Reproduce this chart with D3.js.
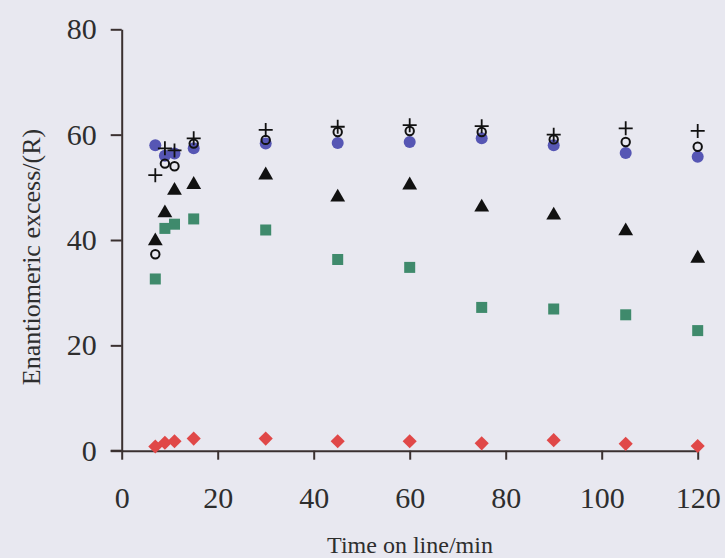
<!DOCTYPE html>
<html>
<head>
<meta charset="utf-8">
<script src="https://cdn.jsdelivr.net/npm/d3@7"></script>
<style>
  html, body { margin: 0; padding: 0; background: #e8e8f0; }
  svg { display: block; }
</style>
</head>
<body>
<svg id="chart" width="725" height="558"></svg>
<script>
// ---- Data ----
const timesEarly = [7, 9, 11, 15];
const timesLate = [30, 45, 60, 75, 90, 105, 120];
const times = timesEarly.concat(timesLate);

const plusValues   = [52.3, 57.4, 57.0, 59.3, 60.9, 61.5, 61.8, 61.6, 60.0, 61.2, 60.7];
const openValues   = [37.3, 54.5, 54.0, 58.3, 59.0, 60.5, 60.7, 60.5, 59.1, 58.6, 57.7];
const blueValues   = [58.0, 56.0, 56.4, 57.4, 58.3, 58.4, 58.6, 59.3, 58.0, 56.5, 55.8];
const triValues    = [40.0, 45.3, 49.6, 50.7, 52.5, 48.3, 50.6, 46.4, 44.9, 41.9, 36.7];
const squareValues = [32.6, 42.2, 43.0, 44.0, 41.9, 36.3, 34.8, 27.2, 26.9, 25.8, 22.8];
const diamondValues= [0.8, 1.5, 1.8, 2.3, 2.3, 1.8, 1.8, 1.4, 2.0, 1.3, 0.9];

const xTicks = [0, 20, 40, 60, 80, 100, 120];
const yTicks = [0, 20, 40, 60, 80];
const xTitle = "Time on line/min";
const yTitle = "Enantiomeric excess/(R)";

// ---- Layout ----
const svg = d3.select("#chart");
const x = d3.scaleLinear().domain([0, 120]).range([121.7, 697.7]);
const y = d3.scaleLinear().domain([0, 80]).range([450.7, 29.3]);
const axisColor = "#3a3030";
const font = "'Liberation Serif', 'Times New Roman', serif";

// axes
const xAxis = svg.append("g").attr("transform", `translate(0,${y(0)})`)
  .call(d3.axisBottom(x).tickValues(xTicks).tickSize(9).tickPadding(28).tickSizeOuter(0));
const yAxis = svg.append("g").attr("transform", `translate(${x(0)},0)`)
  .call(d3.axisLeft(y).tickValues(yTicks).tickSize(11).tickPadding(14).tickSizeOuter(0));

[xAxis, yAxis].forEach(g => {
  g.attr("font-family", null).attr("font-size", null);
  g.select(".domain").attr("stroke", axisColor).attr("stroke-width", 2);
  g.selectAll(".tick line").attr("stroke", axisColor).attr("stroke-width", 2);
  g.selectAll(".tick text").attr("fill", "#2e2e2e")
    .style("font-family", font).style("font-size", "30px");
});
xAxis.selectAll(".tick text").attr("dy", null).attr("y", 57);
// extend x-axis line left past the y axis (as in the reference)
svg.append("line").attr("x1", x(0) - 11).attr("x2", x(0))
  .attr("y1", y(0)).attr("y2", y(0)).attr("stroke", axisColor).attr("stroke-width", 2);

// titles
svg.append("text").attr("x", 410).attr("y", 553).attr("text-anchor", "middle")
  .style("font-family", font).style("font-size", "24px").attr("fill", "#2e2e2e")
  .text(xTitle);
svg.append("text").attr("transform", `translate(40,${257}) rotate(-90)`)
  .attr("text-anchor", "middle")
  .style("font-family", font).style("font-size", "26px").attr("fill", "#2e2e2e")
  .text(yTitle);

// ---- Marks ----
const pts = vals => times.map((t, i) => ({t, v: vals[i]}));
const g = svg.append("g");

// squares
g.selectAll(".sq").data(pts(squareValues)).join("rect")
  .attr("x", d => x(d.t) - 5.5).attr("y", d => y(d.v) - 5.5)
  .attr("width", 11).attr("height", 11).attr("fill", "#3f8a6c");

// triangles
const tri = d3.symbol().type(d3.symbolTriangle).size(95);
g.selectAll(".tri").data(pts(triValues)).join("path")
  .attr("transform", d => `translate(${x(d.t)},${y(d.v) + 1})`)
  .attr("d", tri).attr("fill", "#111");

// diamonds
g.selectAll(".dia").data(pts(diamondValues)).join("rect")
  .attr("x", -5).attr("y", -5).attr("width", 10).attr("height", 10)
  .attr("transform", d => `translate(${x(d.t)},${y(d.v)}) rotate(45)`)
  .attr("fill", "#e04848");

// blue circles
g.selectAll(".blue").data(pts(blueValues)).join("circle")
  .attr("cx", d => x(d.t)).attr("cy", d => y(d.v)).attr("r", 6)
  .attr("fill", "#5656b4");

// open circles
g.selectAll(".open").data(pts(openValues)).join("circle")
  .attr("cx", d => x(d.t)).attr("cy", d => y(d.v)).attr("r", 4.2)
  .attr("fill", "none").attr("stroke", "#111").attr("stroke-width", 2);

// plus
g.selectAll(".plus").data(pts(plusValues)).join("path")
  .attr("transform", d => `translate(${x(d.t)},${y(d.v)})`)
  .attr("d", "M-7,0H7M0,-7V7").attr("stroke", "#111").attr("stroke-width", 1.8);
</script>
</body>
</html>
